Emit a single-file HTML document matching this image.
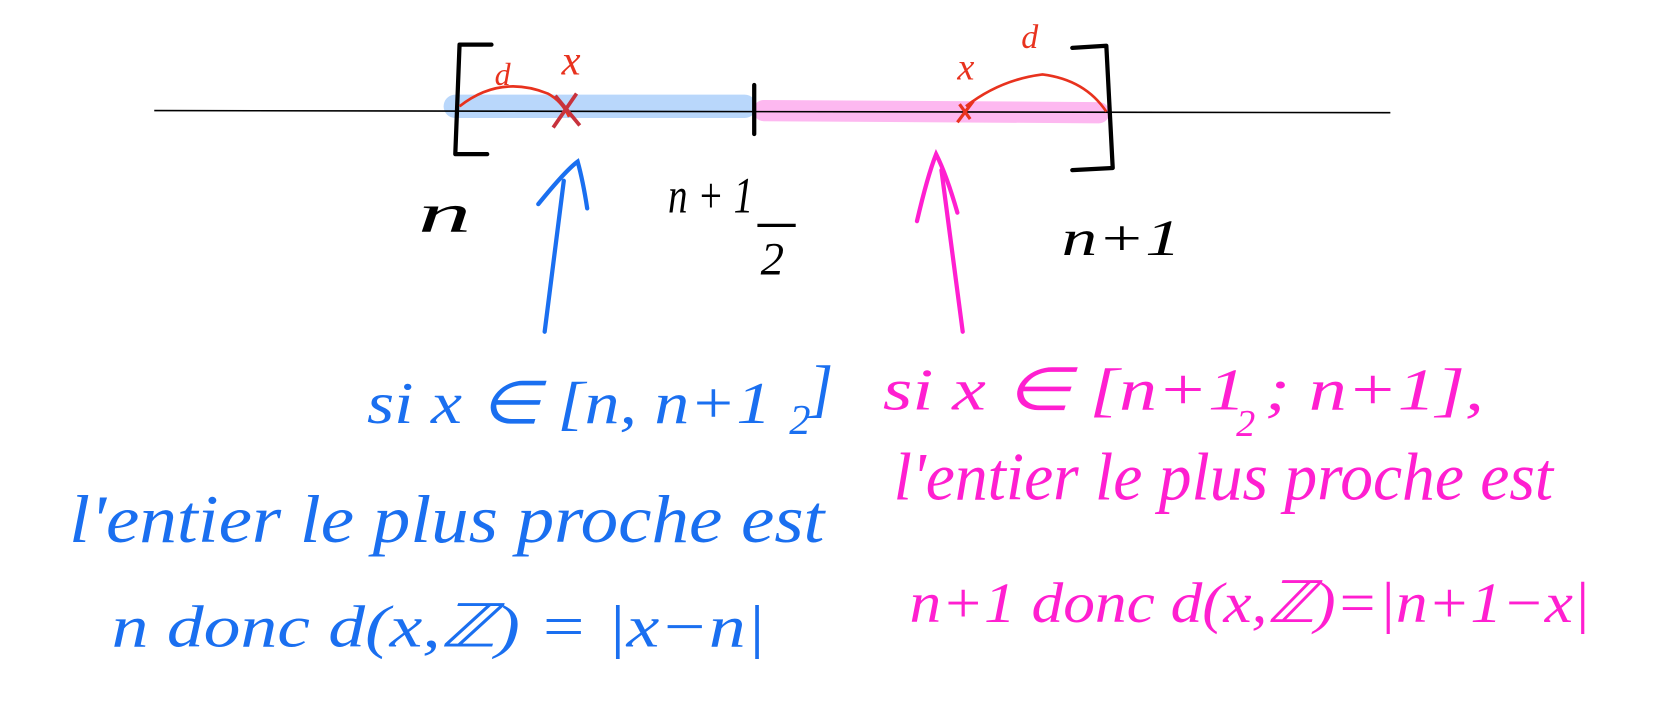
<!DOCTYPE html>
<html><head><meta charset="utf-8"><style>
html,body{margin:0;padding:0;background:#fff;}
svg{display:block}
text{font-family:"Liberation Serif",serif;font-style:italic;}
</style></head><body>
<svg width="1668" height="723" viewBox="0 0 1568 680" preserveAspectRatio="none" xmlns="http://www.w3.org/2000/svg">
<line x1="428" y1="100" x2="700" y2="100" stroke="#b9d7fb" stroke-width="22" stroke-linecap="round"/>
<line x1="718" y1="104" x2="1033" y2="106" stroke="#fdb8f0" stroke-width="20" stroke-linecap="round"/>
<line x1="145" y1="104" x2="1307" y2="106" stroke="#000" stroke-width="1.5"/>
<path d="M462 42 L432 42 L428 145 L458 145" fill="none" stroke="#000" stroke-width="4" stroke-linecap="round" stroke-linejoin="round"/>
<path d="M1008 45 L1040 43 L1046 158 L1008 160" fill="none" stroke="#000" stroke-width="4" stroke-linecap="round" stroke-linejoin="round"/>
<line x1="709" y1="80" x2="709" y2="126" stroke="#000" stroke-width="4" stroke-linecap="round"/>
<path d="M432 100 Q470 70 515 88 Q528 95 535 110" fill="none" stroke="#e8321e" stroke-width="2.5"/>
<path d="M522 90 L545 118 M542 88 L520 120" stroke="#c8323c" stroke-width="3.5"/>
<text x="465" y="80" font-size="30" fill="#e8321e">d</text>
<text x="528" y="70" font-size="40" fill="#e8321e">x</text>
<path d="M908 100 Q940 75 980 70 Q1020 75 1040 105" fill="none" stroke="#e8321e" stroke-width="2.5"/>
<path d="M900 115 L915 95 M902 98 L912 112" stroke="#e8321e" stroke-width="3"/>
<text x="900" y="75" font-size="36" fill="#e8321e">x</text>
<text x="960" y="45" font-size="32" fill="#e8321e">d</text>
<text x="393" y="218" font-size="52" fill="#000" textLength="50" lengthAdjust="spacingAndGlyphs">n</text>
<text x="628" y="200" font-size="48" fill="#000" textLength="80" lengthAdjust="spacingAndGlyphs">n + 1</text>
<line x1="712" y1="212" x2="748" y2="212" stroke="#000" stroke-width="3"/>
<text x="715" y="258" font-size="44" fill="#000">2</text>
<text x="998" y="240" font-size="48" fill="#000" textLength="112" lengthAdjust="spacingAndGlyphs">n+1</text>
<path d="M512 312 L530 170 M506 192 Q532 160 543 152 Q548 170 552 196" fill="none" stroke="#1a6ff0" stroke-width="4" stroke-linecap="round"/>
<path d="M905 312 L885 160 M862 208 Q872 165 880 145 Q890 165 900 200" fill="none" stroke="#ff1fd0" stroke-width="4" stroke-linecap="round"/>
<g fill="#1a6ff0">
<text x="345" y="398" font-size="56" textLength="380" lengthAdjust="spacingAndGlyphs">si x ∈ [n, n+1</text>
<text x="742" y="408" font-size="40">2</text>
<text x="760" y="385" font-size="60">]</text>
<text x="65" y="510" font-size="64" textLength="710" lengthAdjust="spacingAndGlyphs">l'entier le plus proche est</text>
<text x="105" y="608" font-size="56" textLength="615" lengthAdjust="spacingAndGlyphs">n donc d(x,ℤ) = |x−n|</text>
</g>
<g fill="#ff1fd0">
<text x="830" y="385" font-size="56" textLength="565" lengthAdjust="spacingAndGlyphs">si x ∈ [n+1 ; n+1],</text>
<text x="1162" y="410" font-size="36">2</text>
<text x="840" y="470" font-size="64" textLength="620" lengthAdjust="spacingAndGlyphs">l'entier le plus proche est</text>
<text x="855" y="585" font-size="54" textLength="640" lengthAdjust="spacingAndGlyphs">n+1 donc d(x,ℤ)=|n+1−x|</text>
</g>
</svg>
</body></html>
